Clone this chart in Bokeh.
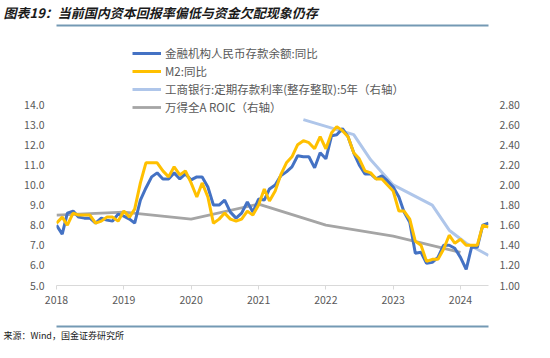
import pandas as pd
from bokeh.plotting import figure
from bokeh.models import (Range1d, LinearAxis, FixedTicker, NumeralTickFormatter,
                          DatetimeTickFormatter, Legend, LegendItem, Label,
                          CustomJSTickFormatter)
from bokeh.embed import file_html
from bokeh.resources import INLINE

# ---------------- data ----------------
start_month = "2018-01-01"
deposit_yoy = [8.0, 7.55, 8.6, 8.7, 8.4, 8.35, 8.35, 8.1, 8.35, 8.25, 8.2, 8.55,
               8.45, 8.3, 8.1, 9.25, 9.85, 10.4, 10.6, 10.3, 10.3, 10.6, 10.3, 10.55,
               10.25, 10.4, 10.4, 9.9, 9.0, 9.0, 9.25, 8.65, 8.35, 8.6, 9.15, 8.65,
               9.3, 9.25, 9.8, 10.0, 10.45, 10.65, 10.9, 11.45, 11.4, 11.4, 10.85, 11.6,
               11.3, 12.45, 12.5, 12.8, 12.4, 11.6, 11.0, 10.55, 10.55, 10.3, 10.45, 10.2,
               9.9, 9.4, 8.65, 8.15, 6.6, 6.65, 6.1, 6.15, 6.4, 7.0, 7.0, 6.85,
               6.4, 5.8, 6.9, 6.9, 8.0, 8.1]
m2_yoy = [8.1, 8.4, 8.0, 8.6, 8.5, 8.5, 8.5, 8.1, 8.2, 8.4, 8.4, 8.2,
          8.7, 8.4, 8.8, 10.1, 11.1, 11.1, 11.1, 10.7, 10.4, 10.9, 10.5, 10.7,
          10.1, 9.4, 10.1, 9.4, 8.1, 8.3, 8.6, 8.3, 8.2, 8.3, 8.7, 8.5,
          9.0, 9.8, 9.2, 9.7, 10.5, 11.1, 11.4, 12.0, 12.2, 12.1, 11.8, 12.4,
          11.8, 12.6, 12.9, 12.7, 12.4, 11.6, 11.3, 10.7, 10.6, 10.3, 10.3, 10.0,
          9.7, 8.7, 8.7, 8.3, 7.2, 7.0, 6.2, 6.3, 6.3, 6.8, 7.5, 7.1,
          7.3, 7.0, 7.0, 7.0, 8.0, 7.9]
rate_dates = ["2021-09-01", "2022-06-01", "2022-09-01", "2023-01-01", "2023-08-01",
              "2023-11-01", "2024-02-01", "2024-06-01"]
rate_5y = [2.65, 2.50, 2.25, 2.00, 1.80, 1.55, 1.42, 1.30]
roic_dates = ["2018-01-01", "2019-01-01", "2020-01-01", "2021-01-01", "2022-01-01",
              "2023-01-01", "2024-01-01"]
roic = [1.70, 1.73, 1.66, 1.81, 1.60, 1.49, 1.33]

year_labels = ["2018", "2019", "2020", "2021", "2022", "2023", "2024"]
left_ticks = [5, 6, 7, 8, 9, 10, 11, 12, 13, 14]
right_ticks = [1.0, 1.2, 1.4, 1.6, 1.8, 2.0, 2.2, 2.4, 2.6, 2.8]

series_names = ["金融机构人民币存款余额:同比", "M2:同比",
                "工商银行:定期存款利率(整存整取):5年（右轴）", "万得全A ROIC（右轴）"]
title_text = "图表19：当前国内资本回报率偏低与资金欠配现象仍存"
source_text = "来源：Wind，国金证券研究所"

months = pd.date_range(start_month, periods=len(m2_yoy), freq="MS")
rate_x = pd.to_datetime(rate_dates)
roic_x = pd.to_datetime(roic_dates)

# ---------------- figure ----------------
W, H = 534, 342
FRAME_L, FRAME_R, FRAME_T, FRAME_B = 56, 488, 25, 285
TICK_T = 104          # pixel row of the top tick (14.0 / 2.80)
px_per_unit = (FRAME_B - TICK_T) / (left_ticks[-1] - left_ticks[0])
y_top = left_ticks[-1] + (TICK_T - FRAME_T) / px_per_unit
r_per_px = (right_ticks[-1] - right_ticks[0]) / (FRAME_B - TICK_T)
r_top = right_ticks[-1] + (TICK_T - FRAME_T) * r_per_px

p = figure(width=W, height=H, output_backend="svg", toolbar_location=None,
           x_axis_type="datetime",
           x_range=Range1d(pd.Timestamp("2018-01-01"), pd.Timestamp("2024-06-01")),
           y_range=Range1d(left_ticks[0], y_top),
           min_border_left=FRAME_L, min_border_right=W - FRAME_R,
           min_border_top=FRAME_T, min_border_bottom=H - FRAME_B)
p.extra_y_ranges = {"r": Range1d(right_ticks[0], r_top)}
p.outline_line_color = None
p.xgrid.visible = False
p.ygrid.visible = False

FONT = "Noto Sans CJK SC"
GRAY_TXT = "#595959"
RULE = "#7499b4"

xa = p.xaxis[0]
xa.ticker = FixedTicker(ticks=[pd.Timestamp(y + "-01-01").value / 1e6 for y in year_labels])
xa.formatter = DatetimeTickFormatter(years="%Y", months="%Y", days="%Y", hours="%Y")
xa.axis_line_color = "#d9d9d9"
xa.major_tick_line_color = "#d9d9d9"
xa.major_tick_in = 0
xa.major_tick_out = 4
xa.minor_tick_line_color = None
xa.major_label_text_font = FONT
xa.major_label_text_font_size = "10.5px"
xa.major_label_text_color = GRAY_TXT
xa.major_label_standoff = 6

ya = p.yaxis[0]
ya.ticker = FixedTicker(ticks=left_ticks)
ya.formatter = NumeralTickFormatter(format="0.0")
ya.axis_line_color = None
ya.major_tick_line_color = None
ya.minor_tick_line_color = None
ya.major_label_text_font = FONT
ya.major_label_text_font_size = "10.5px"
ya.major_label_text_color = GRAY_TXT
ya.major_label_standoff = 6

ra = LinearAxis(y_range_name="r", ticker=FixedTicker(ticks=right_ticks),
                formatter=NumeralTickFormatter(format="0.00"))
ra.axis_line_color = None
ra.major_tick_line_color = None
ra.minor_tick_line_color = None
ra.major_label_text_font = FONT
ra.major_label_text_font_size = "10.5px"
ra.major_label_text_color = GRAY_TXT
ra.major_label_standoff = 5
p.add_layout(ra, "right")

r_roic = p.line(roic_x, roic, y_range_name="r", line_color="#A5A5A5", line_width=2.8)
r_rate = p.line(rate_x, rate_5y, y_range_name="r", line_color="#AFC6EA", line_width=3)
r_dep = p.line(months, deposit_yoy, line_color="#4472C4", line_width=3)
r_m2 = p.line(months, m2_yoy, line_color="#FFC000", line_width=3)

ROW_H, ROW_GAP = 16, 2
leg_top = 45
leg_h = 4 * ROW_H + 3 * ROW_GAP
legend = Legend(items=[LegendItem(label=series_names[0], renderers=[r_dep]),
                       LegendItem(label=series_names[1], renderers=[r_m2]),
                       LegendItem(label=series_names[2], renderers=[r_rate]),
                       LegendItem(label=series_names[3], renderers=[r_roic])],
                location=(132 - FRAME_L, FRAME_B - (leg_top + leg_h)), orientation="vertical",
                label_text_font=FONT, label_text_font_size="11.5px",
                label_text_color=GRAY_TXT, glyph_width=29, glyph_height=14,
                label_height=14, spacing=ROW_GAP, padding=0, margin=0, label_standoff=4,
                border_line_color=None, background_fill_alpha=0)
p.add_layout(legend, "center")

# --- page furniture in the side panels ---
mid_tick = pd.Timestamp("2021-01-01").value / 1e6


def rule_axis():
    # an axis that shows only its line: one hidden tick so the axis is drawn
    return LinearAxis(ticker=FixedTicker(ticks=[mid_tick]),
                      formatter=CustomJSTickFormatter(code="return ''"),
                      axis_line_color=RULE, axis_line_width=2,
                      major_tick_line_color=None, minor_tick_line_color=None,
                      major_tick_in=0, major_tick_out=2, minor_tick_in=0, minor_tick_out=0,
                      major_label_standoff=0, major_label_text_font_size="1px",
                      major_label_text_alpha=0)


# above: first added = closest to the frame
p.add_layout(rule_axis(), "above")
p.add_layout(Label(x=3 - FRAME_L, y=11, x_units="screen", y_units="screen",
                   text=title_text, text_font=FONT, text_font_size="13px",
                   text_font_style="bold italic", text_color="#1a1a1a",
                   text_baseline="middle", text_align="left"), "above")
# below: x axis, blank spacer, rule, source
p.add_layout(Label(x=0, y=0, x_units="screen", y_units="screen", text=" ",
                   text_font_size="2px", padding=(0, 9), background_fill_alpha=0), "below")
p.add_layout(rule_axis(), "below")
p.add_layout(Label(x=3 - FRAME_L, y=6, x_units="screen", y_units="screen",
                   text=source_text, text_font=FONT, text_font_size="9px",
                   text_color="#1a1a1a", text_baseline="middle", text_align="left"), "below")

open("out.html", "w").write(file_html(p, INLINE))
